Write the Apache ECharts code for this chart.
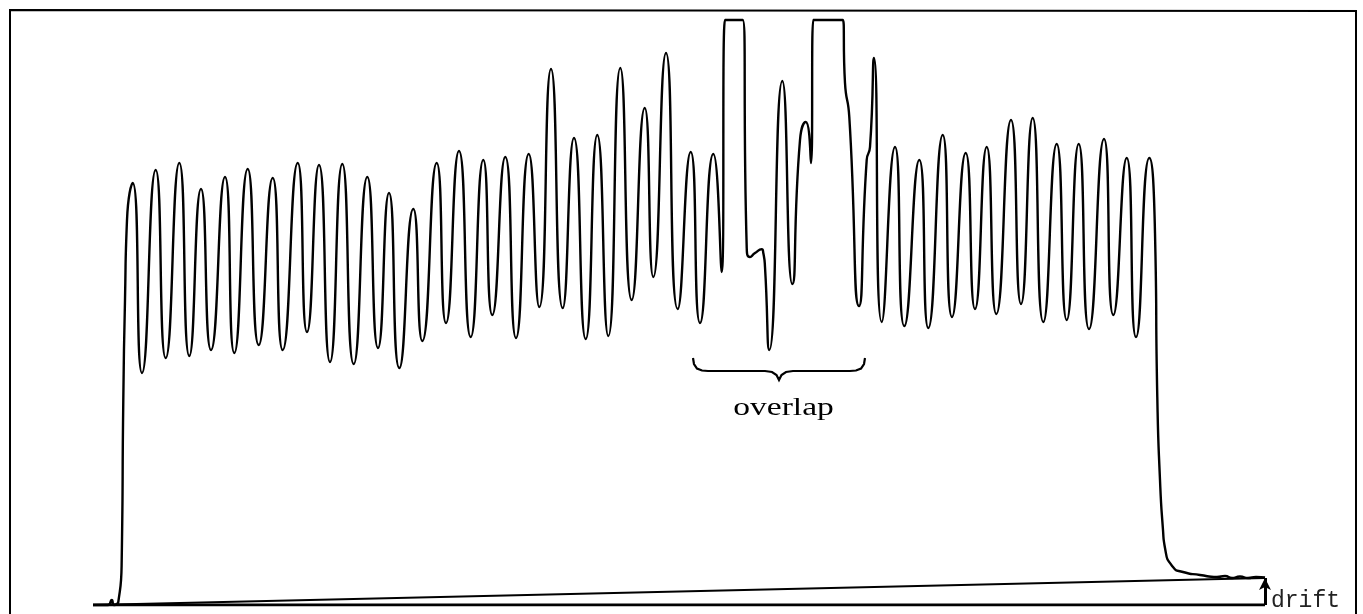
<!DOCTYPE html>
<html><head><meta charset="utf-8">
<script src="https://cdn.jsdelivr.net/npm/echarts@6/dist/echarts.min.js"></script>
<style>html,body{margin:0;padding:0;background:#fff}#c{width:1363px;height:614px}</style>
</head><body><div id="c"></div>
<script>
// Detector trace (time units, signal units above baseline)
const traceTime = [0,15,18.7,21,25.3,28.7,30.3,32,34,39.7,
 49,62.7,72.7,86.3,96.3,108,118,132,141.3,154.7,165.7,179.7,189.7,204.7,214,226,237,249.3,260.7,274.3,285,296,306.3,320.3,329.3,343.7,353,366,377.7,390.3,399.3,412.3,423,435.7,446.3,458,469.7,481,492.7,504.3,515.3,527.3,538.7,551.7,560.3,573,584.7,597.7,607,620.3,628.7,
 632,649.7,653.7,657,662,668.7,670.3,672,676.3,
 689.3,699.3,707,712.7,718,720.3,749.7,752,756.3,766,773.7,777,781,788.7,802,811.3,826.3,835.3,849.7,859,872.7,882,893.7,903.3,918,928,939.7,950.3,963.7,973.7,985.7,996,1011,1020.3,1033.7,1043,1056.3,1062,1064.3,1067,1070,1072,1080,1090,1107,1124,1132,1139,1147,1155,1163,1172];
const traceSignal = [0,0,5,0,3,45,205,305,385,422,
 232,435,247,442,249,416,255,428,252,436,260,427,255,442,273,440,243,441,241,428,257,412,237,396,264,442,282,454,268,445,290,448,267,451,298,536,297,467,266,470,269,537,305,497,328,552,296,453,282,451,333,
 585,585,358,348,352,355.7,352,338,255,
 524,321,465,483,442,585,585,522,488,299,445,458,547,283,458,279,445,277,470,288,452,296,458,291,485,301,487,283,461,285,461,276,466,290,447,268,447,372,208,125,75,57,38,33,30,28,29,27,28.5,27,28,27.5];
// Baseline and drifted baseline
const baseTime = [0, 1172];
const baseSignal = [0, 0];
const driftSignal = [0, 27];
const overlapLabel = 'overlap';
const driftLabel = 'drift';

const zip = (a, b) => a.map((v, i) => [v, b[i]]);

const chart = echarts.init(document.getElementById('c'));
chart.setOption({
  animation: false,
  backgroundColor: '#fff',
  grid: { left: 93, right: 0, top: 0, bottom: 9 },
  xAxis: { type: 'value', min: 0, max: 1270, show: false },
  yAxis: { type: 'value', min: 0, max: 605, show: false },
  series: [
    { type: 'line', data: zip(traceTime, traceSignal), smooth: 0.62, showSymbol: false,
      lineStyle: { color: '#000', width: 2.4 }, clip: false },
    { type: 'line', data: zip(baseTime, baseSignal), showSymbol: false,
      lineStyle: { color: '#000', width: 3 },
      markLine: { silent: true, symbol: ['none', 'arrow'], symbolSize: [9, 12],
        lineStyle: { color: '#000', width: 3, type: 'solid' }, label: { show: false },
        data: [[{ coord: [baseTime[1], baseSignal[1]] }, { coord: [baseTime[1], driftSignal[1]] }]] } },
    { type: 'line', data: zip(baseTime, driftSignal), showSymbol: false,
      lineStyle: { color: '#000', width: 2 } }
  ],
  graphic: [
    { type: 'polyline', shape: { points: [[10, 620], [10, 10], [1356, 11], [1356, 620]] },
      style: { stroke: '#000', lineWidth: 2, fill: null } },
    { type: 'polyline', shape: { points: [[693,358],[694,364],[697,368.5],[702,370.5],[708,371],[765,371],[772,372],[776.5,375],[779,380],
        [781.5,375],[786,372],[793,371],[850,371],[856,370.5],[861,368.5],[864,364],[865,358]] },
      style: { stroke: '#000', lineWidth: 2.2, fill: null } },
    { type: 'text', x: 783.5, y: 408, scaleX: 1.29,
      style: { text: overlapLabel, font: '26px "Liberation Serif"', fill: '#000', align: 'center', verticalAlign: 'middle', textAlign: 'center', textVerticalAlign: 'middle' } },
    { type: 'text', x: 1271, y: 601,
      style: { text: driftLabel, font: '23px "Liberation Mono"', fill: '#222', align: 'left', verticalAlign: 'middle', textAlign: 'left', textVerticalAlign: 'middle' } }
  ]
});
</script>
</body></html>
